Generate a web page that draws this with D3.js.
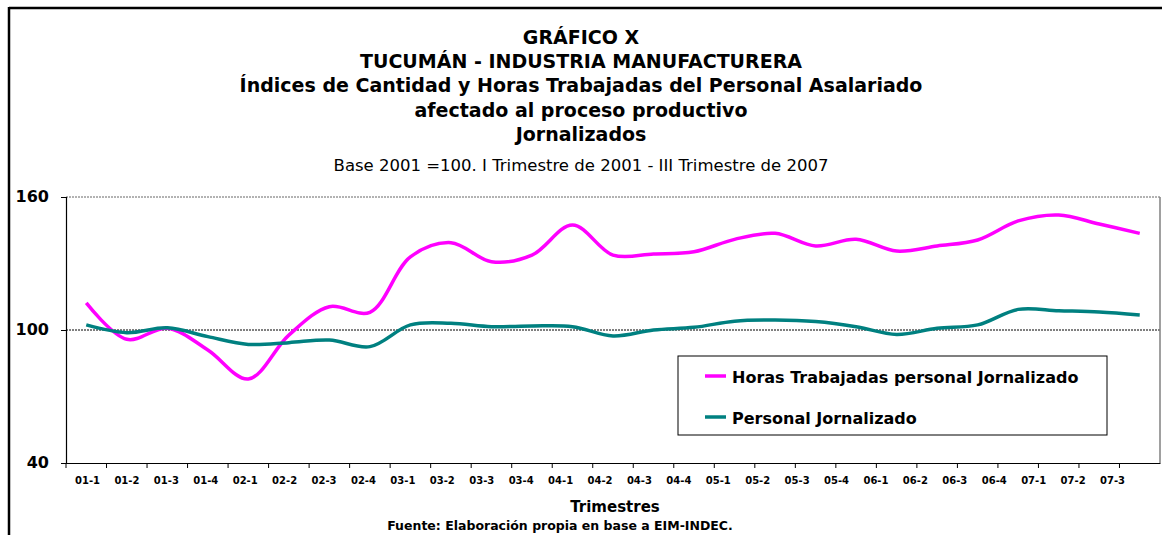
<!DOCTYPE html>
<html>
<style>
body { margin: 0; background: #fff; }
text { font-family: Tahoma, "DejaVu Sans", sans-serif; }
</style>
<svg id="chart" width="1162" height="535"></svg>
<script src="https://cdnjs.cloudflare.com/ajax/libs/d3/7.8.5/d3.min.js"></script>
<script>
var trimestres = ["01-1","01-2","01-3","01-4","02-1","02-2","02-3","02-4",
  "03-1","03-2","03-3","03-4","04-1","04-2","04-3","04-4",
  "05-1","05-2","05-3","05-4","06-1","06-2","06-3","06-4",
  "07-1","07-2","07-3"];

var horasTrabajadas = [112.2, 95.8, 100.8, 91, 77.9, 97.7, 110.5, 108,
  133, 139.4, 130.8, 133.8, 147.4, 133.8, 134.3, 135.3,
  140.9, 143.6, 137.9, 140.9, 135.6, 137.9, 140.6, 149.2,
  151.9, 147.8, 143.6];

var personal = [102.3, 98.8, 101, 97, 93.5, 94.3, 95.5, 92.5,
  102.3, 103, 101.5, 101.8, 101.5, 97.3, 100, 101.2,
  104, 104.5, 103.8, 101.5, 98, 100.8, 102.3, 109.3,
  108.7, 108.1, 106.8];

var yTicks = [40, 100, 160];

var titulos = ["GRÁFICO X", "TUCUMÁN - INDUSTRIA MANUFACTURERA",
  "Índices de Cantidad y Horas Trabajadas del Personal Asalariado",
  "afectado al proceso productivo", "Jornalizados"];

var series = [
  { name: "Horas Trabajadas personal Jornalizado", values: horasTrabajadas, color: "#ff00ff" },
  { name: "Personal Jornalizado", values: personal, color: "#008080" }
];

var svg = d3.select("#chart");

// outer frame (only top and left visible)
svg.append("line").attr("x1", 9).attr("x2", 1162).attr("y1", 8).attr("y2", 8)
  .attr("stroke", "#000").attr("stroke-width", 2.5);
svg.append("line").attr("x1", 9).attr("x2", 9).attr("y1", 7).attr("y2", 535)
  .attr("stroke", "#000").attr("stroke-width", 2.5);

var plotLeft = 66, plotRight = 1160, plotTop = 197, plotBottom = 463;

var x = d3.scaleBand().domain(trimestres).range([plotLeft, plotRight]);
// labels in the original drift a little against the ticks
var xLabel = d3.scalePoint().domain(trimestres).range([87, 1112]);
var y = d3.scaleLinear().domain([40, 160]).range([plotBottom, plotTop]);

// titles
svg.selectAll("text.titulo")
  .data(titulos)
  .enter().append("text")
    .attr("class", "titulo")
    .attr("x", 581)
    .attr("y", function(d, i) { return 44 + i * 24.2; })
    .attr("text-anchor", "middle")
    .attr("font-size", "19px")
    .attr("font-weight", "bold")
    .text(function(d) { return d; });

svg.append("text")
  .attr("x", 581).attr("y", 171)
  .attr("text-anchor", "middle")
  .attr("font-size", "16.5px")
  .text("Base 2001 =100. I Trimestre de 2001 - III Trimestre de 2007");

// gridlines
svg.append("g")
  .selectAll("line")
  .data([100, 160])
  .enter().append("line")
    .attr("x1", plotLeft).attr("x2", plotRight)
    .attr("y1", function(d) { return y(d); })
    .attr("y2", function(d) { return y(d); })
    .attr("stroke", function(d) { return d == 100 ? "#000" : "#666"; })
    .attr("stroke-width", 1)
    .attr("stroke-dasharray", "2,1");

// plot area right border
svg.append("line").attr("x1", plotRight).attr("x2", plotRight)
  .attr("y1", plotTop).attr("y2", plotBottom)
  .attr("stroke", "#808080").attr("stroke-width", 1.5);

// y axis
var yAxis = svg.append("g")
  .attr("transform", "translate(" + plotLeft + ",0)")
  .call(d3.axisLeft(y).tickValues(yTicks).tickSize(5).tickPadding(12));
yAxis.select(".domain").attr("stroke", "#000").attr("stroke-width", 1.2);
yAxis.selectAll(".tick line").attr("stroke", "#000");
yAxis.selectAll("text")
  .attr("font-family", "Tahoma, 'DejaVu Sans', sans-serif")
  .attr("font-size", "16px").attr("font-weight", "bold").attr("fill", "#000")
  .attr("dy", "0.25em");

// x axis line + tick marks between categories
var xAxisLine = svg.append("g")
  .attr("transform", "translate(0," + plotBottom + ")")
  .call(d3.axisBottom(x).tickSize(0).tickFormat(""));
xAxisLine.select(".domain").attr("stroke", "#000").attr("stroke-width", 1.2);

svg.append("g")
  .selectAll("line")
  .data(trimestres)
  .enter().append("line")
    .attr("x1", function(d) { return x(d); })
    .attr("x2", function(d) { return x(d); })
    .attr("y1", plotBottom).attr("y2", plotBottom + 5)
    .attr("stroke", "#000");

// x labels
var xAxis = svg.append("g")
  .attr("transform", "translate(0," + plotBottom + ")")
  .call(d3.axisBottom(xLabel).tickSize(0).tickPadding(14));
xAxis.select(".domain").remove();
xAxis.selectAll("text")
  .attr("font-family", "Tahoma, 'DejaVu Sans', sans-serif")
  .attr("font-size", "10px").attr("font-weight", "bold").attr("fill", "#000");

svg.append("text")
  .attr("x", 615).attr("y", 512)
  .attr("text-anchor", "middle")
  .attr("font-size", "15px").attr("font-weight", "bold")
  .text("Trimestres");

svg.append("text")
  .attr("x", 560).attr("y", 530)
  .attr("text-anchor", "middle")
  .attr("font-size", "12.5px").attr("font-weight", "bold")
  .text("Fuente: Elaboración propia en base a EIM-INDEC.");

// lines
var line = d3.line()
  .x(function(d, i) { return x(trimestres[i]) + x.bandwidth() / 2; })
  .y(function(d) { return y(d); })
  .curve(d3.curveCatmullRom.alpha(0.5));

svg.append("g")
  .selectAll("path")
  .data(series)
  .enter().append("path")
    .attr("fill", "none")
    .attr("stroke", function(d) { return d.color; })
    .attr("stroke-width", 3.5)
    .attr("d", function(d) { return line(d.values); });

// legend
var legend = svg.append("g");
legend.append("rect")
  .attr("x", 678).attr("y", 356).attr("width", 429).attr("height", 79)
  .attr("fill", "#fff").attr("stroke", "#000").attr("stroke-width", 1);

var items = legend.selectAll("g.item")
  .data(series)
  .enter().append("g")
    .attr("class", "item")
    .attr("transform", function(d, i) { return "translate(0," + (377 + i * 41) + ")"; });
items.append("line")
  .attr("x1", 705).attr("x2", 726).attr("y1", -1).attr("y2", -1)
  .attr("stroke", function(d) { return d.color; })
  .attr("stroke-width", 3.5);
items.append("text")
  .attr("x", 732).attr("y", 0).attr("dy", "0.35em")
  .attr("font-size", "16px").attr("font-weight", "bold")
  .text(function(d) { return d.name; });
</script>
</html>
